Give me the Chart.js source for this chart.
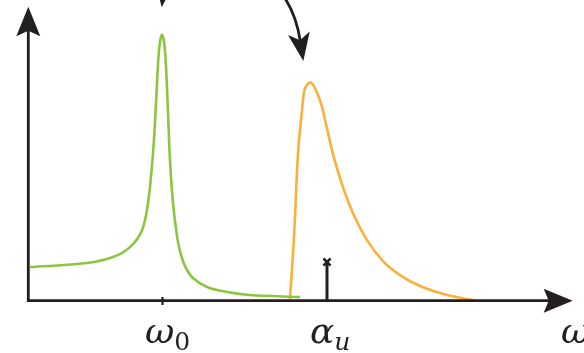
<!DOCTYPE html>
<html>
<head>
<meta charset="utf-8">
<script src="https://cdn.jsdelivr.net/npm/chart.js@4/dist/chart.umd.min.js"></script>
<style>
    html, body { margin: 0; padding: 0; background: #ffffff; }
    #contenedor { width: 584px; height: 353px; position: relative; }
</style>
</head>
<body>
<div id="contenedor"><canvas id="grafica"></canvas></div>
<script>
// Green resonance curve
const greenX = [2, 59, 85, 102, 114, 120, 125, 128, 131, 134, 137, 140, 142, 145, 149, 152, 157, 165, 179, 199, 222, 272];
const greenY = [33, 37, 43, 53, 70, 97, 147, 197, 250, 266, 250, 188, 140, 97, 64, 49, 34, 22, 13, 8, 5, 3];

// Orange skewed peak
const orangeX = [262, 266, 270, 274, 277, 283, 292, 299, 305, 315, 325, 339, 355, 372, 392, 419, 445];
const orangeY = [1, 63, 147, 190, 212, 218, 200, 172, 146, 113, 87, 60, 39, 25, 14, 5, 0];

// Stick marker at alpha_u
const stickX = [299, 299];
const stickY = [0, 38];

// Tick positions on the frequency axis
const tickX = [134.5];

const axisColor = '#231f20';
const mathFont = '"DejaVu Serif", "Liberation Serif", serif';

// Turns two arrays into Chart.js points
function toPoints(xs, ys) {
    return xs.map((x, i) => ({ x: x, y: ys[i] }));
}

// Draws a stealth-style arrowhead with the tip at (tx, ty) pointing along (dx, dy)
function drawArrowHead(ctx, tx, ty, dx, dy, length, halfWidth, notch) {
    const norm = Math.hypot(dx, dy);
    const ux = dx / norm, uy = dy / norm;
    const px = -uy, py = ux;
    const bx = tx - ux * length, by = ty - uy * length;
    ctx.beginPath();
    ctx.moveTo(tx, ty);
    ctx.lineTo(bx + px * halfWidth, by + py * halfWidth);
    ctx.lineTo(tx - ux * notch, ty - uy * notch);
    ctx.lineTo(bx - px * halfWidth, by - py * halfWidth);
    ctx.closePath();
    ctx.fill();
}

// Draws italic math-like label with a subscript
function drawLabel(ctx, main, sub, x, baseline) {
    ctx.font = 'italic 36px ' + mathFont;
    ctx.textAlign = 'left';
    ctx.textBaseline = 'alphabetic';
    ctx.fillText(main, x, baseline);
    if (sub) {
        const w = ctx.measureText(main).width;
        ctx.font = (sub === '0' ? '' : 'italic ') + '25px ' + mathFont;
        ctx.fillText(sub, x + w, baseline + 7);
    }
}

// Plugin that draws the axes, arrows and labels around the curves
const decorationPlugin = {
    id: 'decoraciones',
    afterDatasetsDraw(chart) {
        const ctx = chart.ctx;
        const sx = chart.scales.x;
        const sy = chart.scales.y;
        const x0 = sx.getPixelForValue(0);
        const y0 = sy.getPixelForValue(0);

        ctx.save();
        ctx.strokeStyle = axisColor;
        ctx.fillStyle = axisColor;
        ctx.lineWidth = 2.8;
        ctx.lineCap = 'butt';

        // Vertical axis
        ctx.beginPath();
        ctx.moveTo(x0 + 0.3, y0 + 1.4);
        ctx.lineTo(x0 + 0.3, 30);
        ctx.stroke();
        drawArrowHead(ctx, x0 + 0.3, 6.7, 0, -1, 29.5, 12, 24);

        // Horizontal axis
        ctx.beginPath();
        ctx.moveTo(x0 - 1, y0 + 0.6);
        ctx.lineTo(550, y0 + 0.6);
        ctx.stroke();
        drawArrowHead(ctx, 572.7, y0 + 0.8, 1, 0, 29, 12, 24);

        // Ticks
        ctx.lineWidth = 2.2;
        tickX.forEach(t => {
            const px = sx.getPixelForValue(t);
            ctx.beginPath();
            ctx.moveTo(px, y0 - 3);
            ctx.lineTo(px, y0 + 5);
            ctx.stroke();
        });

        // Arrow coming in from the top at omega_0
        drawArrowHead(ctx, 161.7, 7.3, -0.12, 1, 29, 11, 23);

        // Curved arrow pointing at the orange peak
        ctx.lineWidth = 2.8;
        ctx.beginPath();
        ctx.moveTo(284, -3);
        ctx.quadraticCurveTo(296, 14, 300.5, 42);
        ctx.stroke();
        drawArrowHead(ctx, 303.3, 61, 0.16, 1, 28, 11, 21);

        // Labels
        drawLabel(ctx, 'ω', '0', 145, 343);
        drawLabel(ctx, 'α', 'u', 310, 343);
        drawLabel(ctx, 'ω', '', 561, 343);
        ctx.restore();
    }
};

new Chart(document.getElementById('grafica').getContext('2d'), {
    type: 'line',
    data: {
        datasets: [
            {
                data: toPoints(greenX, greenY),
                borderColor: '#8cc63f',
                borderWidth: 2.6,
                pointRadius: 0,
                tension: 0.35,
                clip: false
            },
            {
                data: toPoints(orangeX, orangeY),
                borderColor: '#fbb03b',
                borderWidth: 2.6,
                pointRadius: 0,
                tension: 0.35,
                clip: false
            },
            {
                data: toPoints(stickX, stickY),
                borderColor: axisColor,
                borderWidth: 3,
                pointStyle: 'crossRot',
                pointRadius: [0, 5],
                pointBorderWidth: 2.6,
                pointBorderColor: axisColor,
                tension: 0,
                clip: false
            }
        ]
    },
    options: {
        responsive: true,
        maintainAspectRatio: false,
        animation: false,
        layout: { padding: { left: 28, right: 12, top: 7, bottom: 53 } },
        plugins: {
            legend: { display: false },
            tooltip: { enabled: false }
        },
        scales: {
            x: { type: 'linear', min: 0, max: 544, display: false },
            y: { type: 'linear', min: 0, max: 293, display: false }
        }
    },
    plugins: [decorationPlugin]
});
</script>
</body>
</html>
